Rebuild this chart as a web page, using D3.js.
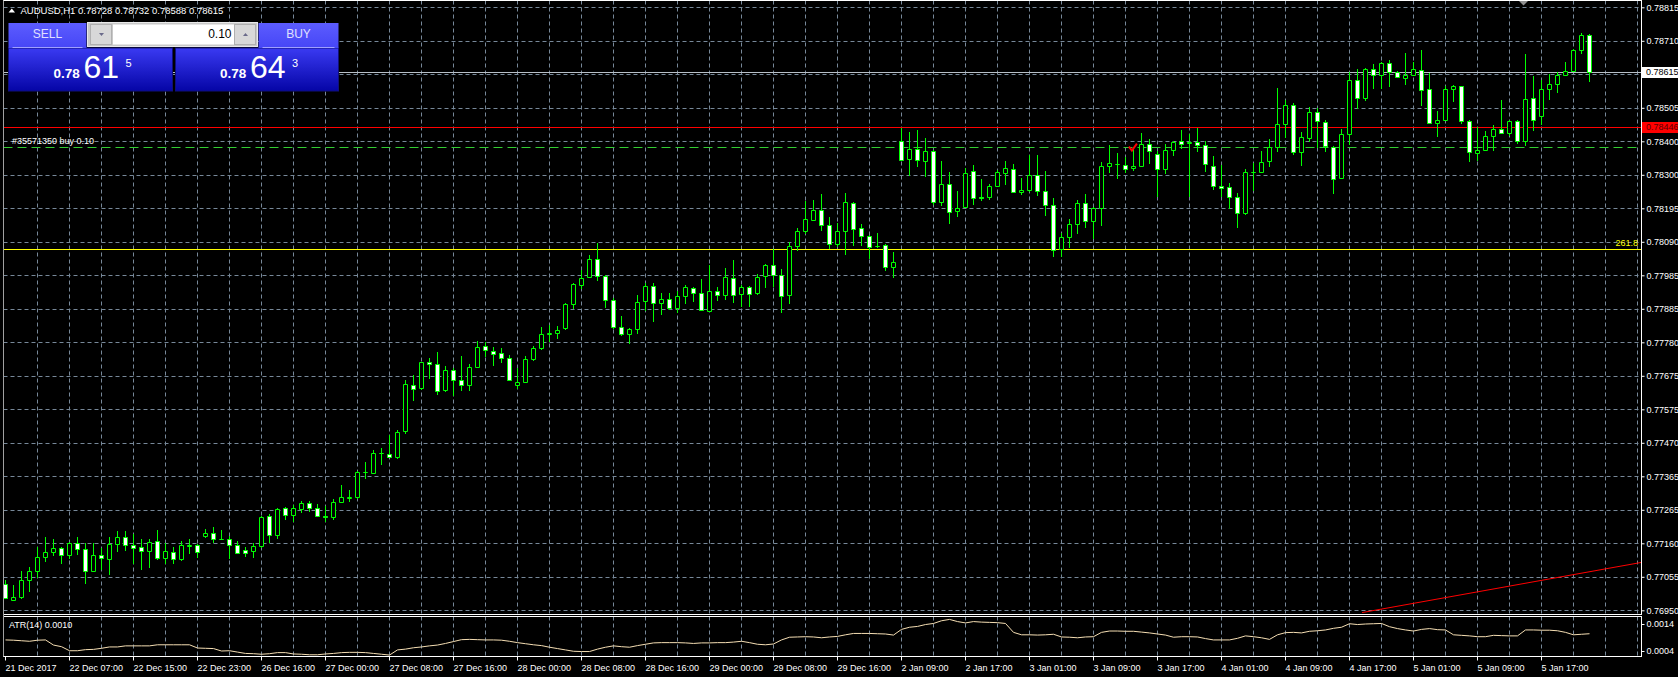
<!DOCTYPE html>
<html><head><meta charset="utf-8">
<script src="https://cdn.jsdelivr.net/npm/d3@7"></script>
<style>
html,body{margin:0;padding:0;background:#000;overflow:hidden;}
svg{display:block;font-family:"Liberation Sans",Arial,sans-serif;}
</style></head><body>
<svg id="c" width="1678" height="677"></svg>
<script>
// ---------------- DATA ----------------
const symbolName = "AUDUSD,H1";
const open = [
0.77030,0.76983,0.76992,0.77045,0.77072,0.77116,0.77131,0.77144,0.77121,0.77157,
0.77141,0.77073,0.77122,0.77109,0.77156,0.77178,0.77153,0.77145,0.77134,0.77165,
0.77112,0.77131,0.77109,0.77149,0.77153,0.77180,0.77190,0.77172,0.77170,0.77153,
0.77137,0.77134,0.77149,0.77243,0.77184,0.77267,0.77246,0.77264,0.77283,0.77267,
0.77243,0.77239,0.77286,0.77298,0.77301,0.77378,0.77375,0.77437,0.77434,0.77425,
0.77505,0.77647,0.77637,0.77718,0.77712,0.77631,0.77693,0.77663,0.77647,0.77703,
0.77768,0.77751,0.77746,0.77731,0.77647,0.77656,0.77728,0.77762,0.77806,0.77808,
0.77822,0.77898,0.77955,0.77981,0.78037,0.77984,0.77910,0.77827,0.77805,0.77820,
0.77907,0.77953,0.77901,0.77913,0.77885,0.77922,0.77947,0.77932,0.77876,0.77938,
0.77926,0.77978,0.77929,0.77950,0.77932,0.77984,0.78018,0.77987,0.77926,0.78077,
0.78123,0.78157,0.78188,0.78143,0.78083,0.78124,0.78211,0.78133,0.78109,0.78076,
0.78081,0.78013,0.78403,0.78346,0.78378,0.78340,0.78372,0.78213,0.78270,0.78186,
0.78197,0.78308,0.78228,0.78228,0.78262,0.78304,0.78316,0.78245,0.78251,0.78297,
0.78248,0.78205,0.78066,0.78106,0.78146,0.78211,0.78155,0.78195,0.78325,0.78330,
0.78328,0.78318,0.78325,0.78393,0.78362,0.78316,0.78375,0.78403,0.78396,0.78399,
0.78390,0.78325,0.78263,0.78260,0.78229,0.78180,0.78306,0.78306,0.78339,0.78384,
0.78455,0.78514,0.78368,0.78410,0.78492,0.78461,0.78384,0.78288,0.78424,0.78591,
0.78535,0.78625,0.78606,0.78643,0.78616,0.78597,0.78606,0.78622,0.78563,0.78458,
0.78467,0.78563,0.78572,0.78464,0.78365,0.78374,0.78418,0.78439,0.78427,0.78464,
0.78402,0.78535,0.78480,0.78563,0.78578,0.78606,0.78619,0.78684,0.78728];
const high = [
0.77043,0.77027,0.77071,0.77083,0.77145,0.77176,0.77169,0.77146,0.77161,0.77176,
0.77157,0.77157,0.77143,0.77176,0.77194,0.77194,0.77185,0.77169,0.77171,0.77197,
0.77159,0.77146,0.77165,0.77172,0.77155,0.77200,0.77209,0.77197,0.77181,0.77165,
0.77146,0.77157,0.77243,0.77249,0.77265,0.77268,0.77277,0.77287,0.77289,0.77280,
0.77273,0.77295,0.77338,0.77323,0.77382,0.77409,0.77446,0.77453,0.77493,0.77508,
0.77663,0.77678,0.77719,0.77729,0.77750,0.77706,0.77700,0.77738,0.77713,0.77783,
0.77780,0.77764,0.77762,0.77739,0.77699,0.77737,0.77767,0.77825,0.77831,0.77828,
0.77901,0.77963,0.78004,0.78049,0.78086,0.77986,0.77916,0.77861,0.77822,0.77926,
0.77963,0.77963,0.77932,0.77932,0.77938,0.77956,0.77950,0.77975,0.78018,0.77950,
0.78009,0.78034,0.77956,0.77953,0.77990,0.78021,0.78068,0.78006,0.78089,0.78133,
0.78216,0.78219,0.78238,0.78165,0.78147,0.78240,0.78213,0.78146,0.78112,0.78118,
0.78084,0.78059,0.78443,0.78430,0.78437,0.78412,0.78374,0.78340,0.78305,0.78246,
0.78319,0.78326,0.78283,0.78267,0.78312,0.78339,0.78329,0.78286,0.78357,0.78357,
0.78308,0.78226,0.78116,0.78161,0.78218,0.78237,0.78197,0.78338,0.78390,0.78365,
0.78353,0.78384,0.78425,0.78409,0.78372,0.78393,0.78403,0.78437,0.78424,0.78441,
0.78403,0.78356,0.78328,0.78273,0.78242,0.78314,0.78332,0.78372,0.78409,0.78564,
0.78527,0.78518,0.78430,0.78507,0.78504,0.78466,0.78386,0.78439,0.78616,0.78625,
0.78626,0.78640,0.78647,0.78653,0.78619,0.78675,0.78647,0.78684,0.78613,0.78495,
0.78572,0.78575,0.78573,0.78466,0.78446,0.78433,0.78452,0.78527,0.78465,0.78465,
0.78672,0.78603,0.78591,0.78609,0.78616,0.78647,0.78687,0.78736,0.78732];
const low = [
0.76988,0.76983,0.76989,0.77010,0.77054,0.77102,0.77120,0.77095,0.77113,0.77125,
0.77034,0.77071,0.77079,0.77062,0.77133,0.77136,0.77097,0.77078,0.77084,0.77109,
0.77097,0.77095,0.77107,0.77127,0.77115,0.77177,0.77162,0.77170,0.77112,0.77127,
0.77118,0.77115,0.77147,0.77162,0.77175,0.77233,0.77227,0.77255,0.77258,0.77242,
0.77227,0.77233,0.77285,0.77289,0.77298,0.77360,0.77374,0.77403,0.77424,0.77422,
0.77499,0.77601,0.77633,0.77667,0.77618,0.77627,0.77615,0.77630,0.77630,0.77702,
0.77736,0.77708,0.77718,0.77662,0.77636,0.77655,0.77724,0.77758,0.77782,0.77793,
0.77819,0.77885,0.77947,0.77980,0.77973,0.77887,0.77824,0.77801,0.77776,0.77808,
0.77880,0.77844,0.77866,0.77882,0.77872,0.77900,0.77906,0.77878,0.77875,0.77911,
0.77913,0.77905,0.77890,0.77890,0.77929,0.77949,0.77952,0.77873,0.77900,0.78065,
0.78117,0.78156,0.78127,0.78071,0.78078,0.78052,0.78080,0.78080,0.78040,0.78074,
0.78003,0.77981,0.78342,0.78297,0.78324,0.78293,0.78208,0.78202,0.78148,0.78170,
0.78196,0.78207,0.78219,0.78221,0.78261,0.78267,0.78244,0.78239,0.78248,0.78236,
0.78172,0.78045,0.78045,0.78074,0.78118,0.78137,0.78103,0.78143,0.78307,0.78288,
0.78306,0.78312,0.78324,0.78334,0.78231,0.78304,0.78358,0.78381,0.78232,0.78372,
0.78310,0.78253,0.78232,0.78194,0.78137,0.78176,0.78250,0.78305,0.78324,0.78370,
0.78413,0.78362,0.78327,0.78401,0.78384,0.78370,0.78240,0.78287,0.78393,0.78504,
0.78529,0.78565,0.78565,0.78571,0.78599,0.78578,0.78605,0.78512,0.78457,0.78417,
0.78466,0.78525,0.78458,0.78339,0.78342,0.78373,0.78374,0.78426,0.78421,0.78396,
0.78390,0.78436,0.78455,0.78532,0.78554,0.78605,0.78618,0.78674,0.78588];
const close = [
0.76989,0.76992,0.77045,0.77073,0.77116,0.77131,0.77144,0.77122,0.77159,0.77141,
0.77073,0.77122,0.77113,0.77156,0.77178,0.77153,0.77144,0.77134,0.77162,0.77112,
0.77132,0.77109,0.77153,0.77151,0.77130,0.77190,0.77170,0.77171,0.77153,0.77128,
0.77128,0.77150,0.77239,0.77184,0.77264,0.77246,0.77267,0.77283,0.77267,0.77243,
0.77240,0.77286,0.77301,0.77301,0.77378,0.77379,0.77437,0.77436,0.77425,0.77502,
0.77650,0.77635,0.77718,0.77712,0.77629,0.77694,0.77663,0.77647,0.77703,0.77765,
0.77755,0.77743,0.77731,0.77663,0.77656,0.77728,0.77762,0.77805,0.77807,0.77817,
0.77898,0.77960,0.77978,0.78037,0.77985,0.77910,0.77827,0.77805,0.77820,0.77904,
0.77953,0.77901,0.77913,0.77885,0.77922,0.77950,0.77932,0.77879,0.77938,0.77926,
0.77981,0.77926,0.77950,0.77929,0.77981,0.78018,0.77987,0.77922,0.78077,0.78123,
0.78161,0.78188,0.78143,0.78083,0.78124,0.78214,0.78130,0.78109,0.78075,0.78077,
0.78013,0.78028,0.78343,0.78378,0.78343,0.78372,0.78213,0.78270,0.78182,0.78195,
0.78304,0.78225,0.78226,0.78263,0.78307,0.78319,0.78245,0.78251,0.78297,0.78248,
0.78205,0.78063,0.78106,0.78146,0.78211,0.78155,0.78195,0.78325,0.78334,0.78331,
0.78316,0.78325,0.78393,0.78372,0.78316,0.78375,0.78399,0.78393,0.78397,0.78390,
0.78331,0.78263,0.78257,0.78229,0.78180,0.78306,0.78307,0.78337,0.78384,0.78455,
0.78514,0.78368,0.78415,0.78492,0.78463,0.78386,0.78285,0.78424,0.78591,0.78535,
0.78625,0.78606,0.78643,0.78616,0.78600,0.78606,0.78625,0.78560,0.78458,0.78467,
0.78563,0.78572,0.78464,0.78368,0.78374,0.78418,0.78439,0.78427,0.78464,0.78402,
0.78532,0.78467,0.78563,0.78578,0.78606,0.78619,0.78684,0.78730,0.78615];
const atr = [
0.00081,0.00080,0.00078,0.00076,0.00080,0.00081,0.00062,0.00056,0.00041,0.00041,
0.00045,0.00046,0.00050,0.00055,0.00055,0.00059,0.00059,0.00059,0.00059,0.00063,
0.00063,0.00063,0.00063,0.00063,0.00051,0.00050,0.00049,0.00040,0.00041,0.00036,
0.00031,0.00030,0.00028,0.00030,0.00034,0.00034,0.00029,0.00028,0.00026,0.00026,
0.00029,0.00031,0.00034,0.00035,0.00035,0.00034,0.00031,0.00028,0.00025,0.00044,
0.00047,0.00052,0.00055,0.00059,0.00062,0.00068,0.00075,0.00082,0.00083,0.00082,
0.00081,0.00081,0.00080,0.00076,0.00071,0.00067,0.00063,0.00060,0.00054,0.00049,
0.00044,0.00039,0.00038,0.00038,0.00047,0.00054,0.00059,0.00056,0.00054,0.00060,
0.00065,0.00070,0.00071,0.00071,0.00071,0.00070,0.00068,0.00070,0.00070,0.00071,
0.00071,0.00073,0.00076,0.00071,0.00065,0.00063,0.00066,0.00081,0.00091,0.00092,
0.00093,0.00092,0.00089,0.00092,0.00094,0.00100,0.00105,0.00105,0.00105,0.00104,
0.00103,0.00099,0.00120,0.00128,0.00131,0.00138,0.00142,0.00152,0.00157,0.00149,
0.00144,0.00149,0.00147,0.00146,0.00145,0.00142,0.00109,0.00100,0.00100,0.00099,
0.00100,0.00102,0.00092,0.00091,0.00089,0.00092,0.00093,0.00109,0.00114,0.00114,
0.00113,0.00113,0.00110,0.00107,0.00103,0.00099,0.00091,0.00093,0.00093,0.00092,
0.00086,0.00081,0.00081,0.00081,0.00087,0.00096,0.00093,0.00089,0.00083,0.00100,
0.00108,0.00109,0.00107,0.00113,0.00115,0.00118,0.00124,0.00128,0.00141,0.00138,
0.00140,0.00141,0.00142,0.00130,0.00123,0.00118,0.00114,0.00120,0.00123,0.00119,
0.00118,0.00100,0.00098,0.00096,0.00093,0.00093,0.00098,0.00097,0.00096,0.00096,
0.00118,0.00118,0.00117,0.00117,0.00115,0.00109,0.00100,0.00102,0.00104];
const timeLabels = ["21 Dec 2017","22 Dec 07:00","22 Dec 15:00","22 Dec 23:00","26 Dec 16:00",
"27 Dec 00:00","27 Dec 08:00","27 Dec 16:00","28 Dec 00:00","28 Dec 08:00","28 Dec 16:00",
"29 Dec 00:00","29 Dec 08:00","29 Dec 16:00","2 Jan 09:00","2 Jan 17:00","3 Jan 01:00",
"3 Jan 09:00","3 Jan 17:00","4 Jan 01:00","4 Jan 09:00","4 Jan 17:00","5 Jan 01:00",
"5 Jan 09:00","5 Jan 17:00"];
const priceTickLabels = ["0.76950","0.77055","0.77160","0.77265","0.77365","0.77470","0.77575",
"0.77675","0.77780","0.77885","0.77985","0.78090","0.78195","0.78300","0.78400","0.78505",
"0.78610","0.78710","0.78815"];
const atrTickValues = [0.0014, 0.0004];
const atrTickLabels = ["0.0014","0.0004"];
const bid = 0.78615, ask = 0.78643, lotSize = "0.10";
const alertPrice = 0.78446;
const orderPrice = 0.78382, orderLabel = "#35571350 buy 0.10";
const fiboPrice = 0.78067, fiboLabel = "261.8";
const trendIdx = [169.6, 204.5], trendPrice = [0.76943, 0.77098];
const entryIdx = 141.2, entryPrice = 0.78375;

// ---------------- LAYOUT ----------------
const svg = d3.select("#c");
const PL = 3.5, PR = 1641.5, PT = 0.5, PB = 614.5, AT = 616.5, AB = 656.5;
const N = open.length;
const x = d3.scaleLinear().domain([0, 204]).range([5.3, 1637.3]);
const y = d3.scaleLinear().domain([0.76950, 0.78815]).range([610.3, 7.3]);
const ya = d3.scaleLinear().domain([0.0004, 0.0014]).range([651, 624]);
const cx = i => Math.floor(x(i));
const py = v => Math.round(y(v));
const GRID = "#778899", DASH = "4,3", GREEN = "#00ff00";

const defs = svg.append("defs");
defs.append("clipPath").attr("id","pclip").append("rect")
  .attr("x",PL).attr("y",PT).attr("width",PR-PL).attr("height",PB-PT);
defs.append("clipPath").attr("id","aclip").append("rect")
  .attr("x",PL).attr("y",AT).attr("width",PR-PL).attr("height",AB-AT);

// ---------------- GRID ----------------
const priceTicks = d3.range(19).map(k => 0.76950 + k*(0.78815-0.76950)/18);
const g = svg.append("g");
g.selectAll("line.hg").data(priceTicks).join("line")
  .attr("x1",PL).attr("x2",PR).attr("y1",d=>py(d)+0.5).attr("y2",d=>py(d)+0.5)
  .attr("stroke",GRID).attr("stroke-dasharray",DASH);
const vTicks = d3.range(4, 205, 4);
g.selectAll("line.vg").data(vTicks).join("line")
  .attr("x1",d=>cx(d)+0.5).attr("x2",d=>cx(d)+0.5).attr("y1",PT).attr("y2",PB)
  .attr("stroke",GRID).attr("stroke-dasharray",DASH);
g.selectAll("line.vga").data(vTicks).join("line")
  .attr("x1",d=>cx(d)+0.5).attr("x2",d=>cx(d)+0.5).attr("y1",AT).attr("y2",AB)
  .attr("stroke",GRID).attr("stroke-dasharray",DASH);

// ---------------- LEVEL LINES ----------------
const lv = svg.append("g").attr("clip-path","url(#pclip)");
lv.append("line").attr("x1",PL).attr("x2",PR).attr("y1",py(fiboPrice)+0.5).attr("y2",py(fiboPrice)+0.5)
  .attr("stroke","#ffff00");
lv.append("text").attr("x",1638).attr("y",py(fiboPrice)-5).attr("text-anchor","end")
  .attr("dominant-baseline","middle").attr("font-size",9).attr("fill","#ffff00").text(fiboLabel);
lv.append("line").attr("x1",PL).attr("x2",PR).attr("y1",py(alertPrice)+0.5).attr("y2",py(alertPrice)+0.5)
  .attr("stroke","#ff0000");
lv.append("line").attr("x1",PL).attr("x2",PR).attr("y1",py(orderPrice)+0.5).attr("y2",py(orderPrice)+0.5)
  .attr("stroke","#32cd32").attr("stroke-dasharray","9,5");
lv.append("text").attr("x",12).attr("y",py(orderPrice)-5).attr("dominant-baseline","middle")
  .attr("font-size",9).attr("fill","#ffffff").text(orderLabel);
lv.append("line").attr("x1",PL).attr("x2",PR).attr("y1",py(bid)+0.5).attr("y2",py(bid)+0.5)
  .attr("stroke","#b8c0c8");
lv.append("line").attr("x1",x(trendIdx[0])).attr("x2",x(trendIdx[1]))
  .attr("y1",y(trendPrice[0])).attr("y2",y(trendPrice[1])).attr("stroke","#ff0000");

// ---------------- CANDLES ----------------
const cg = svg.append("g").attr("clip-path","url(#pclip)");
const idx = d3.range(N);
cg.selectAll("line.w").data(idx).join("line")
  .attr("x1",i=>cx(i)+0.5).attr("x2",i=>cx(i)+0.5)
  .attr("y1",i=>py(high[i])).attr("y2",i=>py(low[i])+1)
  .attr("stroke",GREEN);
cg.selectAll("path.b").data(idx).join("path")
  .attr("d",i=>{
    const t = py(Math.max(open[i],close[i]))+0.5, b = py(Math.min(open[i],close[i]))+0.5;
    const l = cx(i)-1.5;
    return `M${l},${t}H${l+4}V${b}H${l}Z`;
  })
  .attr("fill",i=>close[i] < open[i] ? "#ffffff" : "#000000")
  .attr("stroke",GREEN);

// entry arrow marker
svg.append("path")
  .attr("d",`M${x(entryIdx)-6},${y(entryPrice)-3} l3,4 l5,-7`)
  .attr("fill","none").attr("stroke","#ff0000").attr("stroke-width",2);

// ---------------- ATR ----------------
const line = d3.line().x((d,i)=>cx(i)+0.5).y(d=>ya(d));
svg.append("path").datum(atr).attr("clip-path","url(#aclip)")
  .attr("d",line).attr("fill","none").attr("stroke","#f5deb3");
svg.append("text").attr("x",9).attr("y",626).attr("dominant-baseline","middle")
  .attr("font-size",9).attr("fill","#ffffff").text("ATR(14) " + atr[N-1].toFixed(4));

// ---------------- FRAMES ----------------
const fr = svg.append("g").attr("fill","none").attr("stroke","#ffffff");
fr.append("rect").attr("x",PL).attr("y",PT).attr("width",PR-PL).attr("height",PB-PT);
fr.append("rect").attr("x",PL).attr("y",AT).attr("width",PR-PL).attr("height",AB-AT);
svg.append("line").attr("x1",PL).attr("x2",PL).attr("y1",PT).attr("y2",AB).attr("stroke","#a0a0a0");

// ---------------- AXES ----------------
const pAxis = d3.axisRight(y).tickValues(priceTicks).tickFormat((d,i)=>priceTickLabels[i]).tickSize(3).tickPadding(2);
const pa = svg.append("g").attr("transform",`translate(${PR},0)`).call(pAxis);
const aAxis = d3.axisRight(ya).tickValues(atrTickValues).tickFormat((d,i)=>atrTickLabels[i]).tickSize(3).tickPadding(2);
const aa = svg.append("g").attr("transform",`translate(${PR},0)`).call(aAxis);
const tAxis = d3.axisBottom(d3.scaleLinear().domain([0,204]).range([cx(0)+0.5, cx(204)+0.5]))
  .tickValues(d3.range(0, N, 8)).tickFormat((d,i)=>timeLabels[i]).tickSize(4).tickPadding(2);
const ta = svg.append("g").attr("transform",`translate(-0.5,${AB})`).call(tAxis);
[pa, aa, ta].forEach(a => {
  a.select(".domain").remove();
  a.selectAll(".tick line").attr("stroke","#ffffff");
  a.selectAll(".tick text").attr("fill","#ffffff").attr("font-size",9)
   .attr("font-family","Liberation Sans, Arial, sans-serif");
});
ta.selectAll(".tick text").attr("text-anchor","start").attr("x",0).attr("dy","0.9em");

// price boxes
const bx = svg.append("g");
bx.append("rect").attr("x",PR+0.5).attr("y",py(bid)-5).attr("width",36).attr("height",11).attr("fill","#ffffff");
bx.append("text").attr("x",1646).attr("y",py(bid)+0.5).attr("dominant-baseline","middle")
  .attr("font-size",9).attr("fill","#000000").text(bid.toFixed(5));
bx.append("rect").attr("x",PR+0.5).attr("y",py(alertPrice)-5).attr("width",36).attr("height",11).attr("fill","#ff0000");
bx.append("text").attr("x",1646).attr("y",py(alertPrice)+0.5).attr("dominant-baseline","middle")
  .attr("font-size",9).attr("fill","#5a0000").text(alertPrice.toFixed(5));

// ---------------- HEADER ----------------
svg.append("path").attr("d","M8.5,12.5L15,12.5L11.75,8.5Z").attr("fill","#ffffff");
svg.append("text").attr("x",20.5).attr("y",11).attr("dominant-baseline","middle")
  .attr("font-size",9.5).attr("fill","#ffffff")
  .text(`${symbolName}  ${open[N-1].toFixed(5)} ${high[N-1].toFixed(5)} ${low[N-1].toFixed(5)} ${close[N-1].toFixed(5)}`);
svg.append("path").attr("d","M1519,1L1528,1L1523.5,5.5Z").attr("fill","#909090");

// ---------------- TRADE PANEL ----------------
const gTop = defs.append("linearGradient").attr("id","gTop").attr("x1",0).attr("x2",0).attr("y1",0).attr("y2",1);
gTop.append("stop").attr("offset","0%").attr("stop-color","#5c5cff");
gTop.append("stop").attr("offset","100%").attr("stop-color","#4646f6");
const gLow = defs.append("linearGradient").attr("id","gLow").attr("x1",0).attr("x2",0).attr("y1",0).attr("y2",1);
gLow.append("stop").attr("offset","0%").attr("stop-color","#3a3af2");
gLow.append("stop").attr("offset","100%").attr("stop-color","#0505a6");
const tp = svg.append("g");
function button(x0, w, ux, uw, label, price){
  tp.append("rect").attr("x",x0).attr("y",48).attr("width",w).attr("height",43)
    .attr("fill","url(#gLow)").attr("stroke","#10107a");
  tp.append("rect").attr("x",ux).attr("y",23).attr("width",uw).attr("height",25).attr("fill","url(#gTop)");
  tp.append("line").attr("x1",ux+4).attr("x2",ux+uw-4).attr("y1",47.5).attr("y2",47.5).attr("stroke","#a0a0ff");
  tp.append("text").attr("x",ux+uw/2).attr("y",35).attr("text-anchor","middle").attr("dominant-baseline","middle")
    .attr("font-size",12).attr("fill","#e0e0ff").text(label);
  const s = price.toFixed(5);
  const cxm = x0 + w/2;
  tp.append("text").attr("x",cxm-10.8).attr("y",77.5).attr("text-anchor","end")
    .attr("font-size",13.5).attr("font-weight","bold").attr("fill","#ffffff").text(s.slice(0,4));
  tp.append("text").attr("x",cxm-7).attr("y",77.5)
    .attr("font-size",32).attr("fill","#ffffff").text(s.slice(4,6));
  tp.append("text").attr("x",cxm+35).attr("y",66.5)
    .attr("font-size",11).attr("fill","#ffffff").text(s.slice(6));
}
button(8.5, 164, 8.5, 78, "SELL", bid);
button(175.5, 163, 258.5, 80, "BUY", ask);
tp.append("rect").attr("x",87.5).attr("y",22.5).attr("width",170).attr("height",24).attr("fill","#c8c8c8").attr("stroke","#e8e8e8");
tp.append("rect").attr("x",90.5).attr("y",24.5).attr("width",21).attr("height",20).attr("fill","#d8d8d8").attr("stroke","#b0b0b0");
tp.append("rect").attr("x",234.5).attr("y",24.5).attr("width",21).attr("height",20).attr("fill","#d8d8d8").attr("stroke","#b0b0b0");
tp.append("rect").attr("x",113).attr("y",24.5).attr("width",121).attr("height",20).attr("fill","#ffffff");
tp.append("path").attr("d","M99,33L104,33L101.5,36Z").attr("fill","#6a6a8a");
tp.append("path").attr("d","M243,36L248,36L245.5,33Z").attr("fill","#6a6a8a");
tp.append("text").attr("x",231.5).attr("y",35).attr("text-anchor","end").attr("dominant-baseline","middle")
  .attr("font-size",12).attr("fill","#000000").text(lotSize);
</script>
</body></html>
